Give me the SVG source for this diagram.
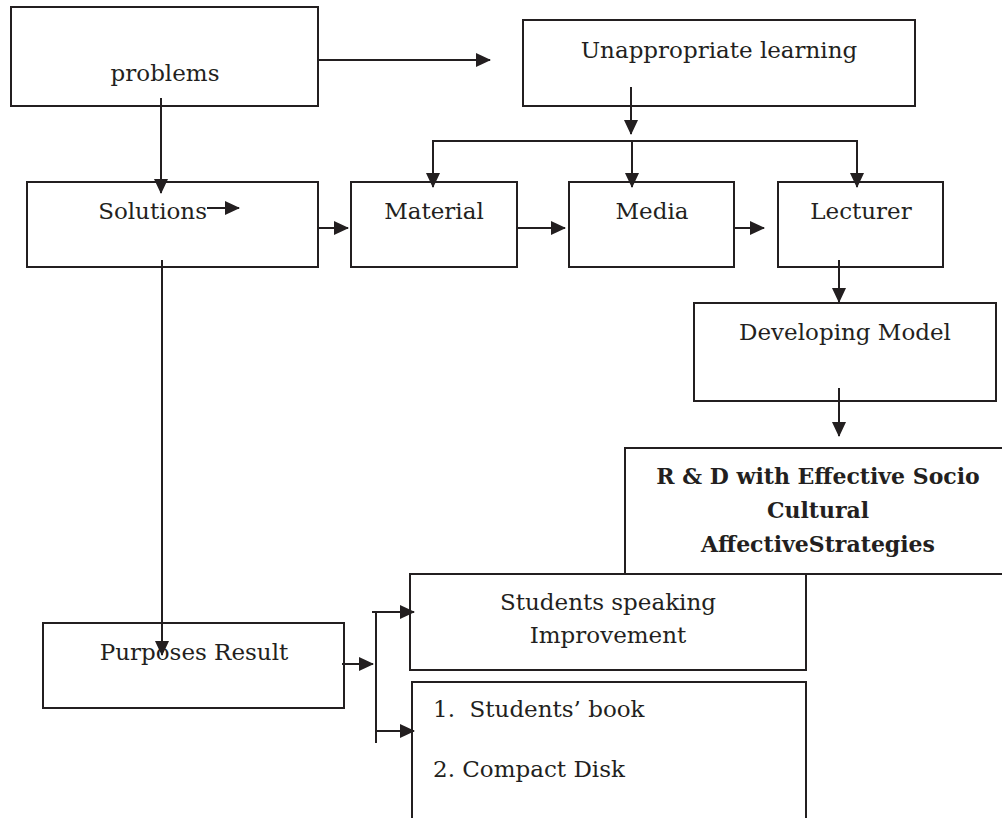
<svg xmlns="http://www.w3.org/2000/svg" width="1002" height="818" viewBox="0 0 1002 818">
<style>
.box{fill:#fff;stroke:#231f20;stroke-width:2}
.ln{fill:none;stroke:#231f20;stroke-width:2}
text{font-family:"DejaVu Serif","Liberation Serif",serif;font-size:23px;fill:#231f20}
.c{text-anchor:middle}
.e{text-anchor:end}
.b{font-weight:bold;font-size:22px}
</style>
<defs>
<marker id="ah" markerWidth="15" markerHeight="14" refX="14" refY="7" orient="auto" markerUnits="userSpaceOnUse">
<path d="M0,0 L15,7 L0,14 Z" fill="#231f20"/>
</marker>
</defs>
<g id="problems"><rect class="box" x="11" y="7" width="307" height="99"/><text class="c" x="165" y="81">problems</text></g>
<g id="unappropriate"><rect class="box" x="523" y="20" width="392" height="86"/><text class="c" x="719" y="58">Unappropriate learning</text></g>
<g id="solutions"><rect class="box" x="27" y="182" width="291" height="85"/><text class="e" x="207" y="219">Solutions</text><line class="ln" x1="207" y1="208" x2="239" y2="208" marker-end="url(#ah)"/></g>
<g id="material"><rect class="box" x="351" y="182" width="166" height="85"/><text class="c" x="434" y="219">Material</text></g>
<g id="media"><rect class="box" x="569" y="182" width="165" height="85"/><text class="c" x="652" y="219">Media</text></g>
<g id="lecturer"><rect class="box" x="778" y="182" width="165" height="85"/><text class="c" x="861" y="219">Lecturer</text></g>
<g id="developing"><rect class="box" x="694" y="303" width="302" height="98"/><text class="c" x="845" y="340">Developing Model</text></g>
<g id="rd"><rect class="box" x="625" y="448" width="390" height="126"/><text class="c b" x="818" y="484">R &amp; D with Effective Socio</text><text class="c b" x="818" y="518">Cultural</text><text class="c b" x="818" y="552">AffectiveStrategies</text></g>
<g id="purposes"><rect class="box" x="43" y="623" width="301" height="85"/><text class="c" x="194" y="660">Purposes Result</text></g>
<g id="speaking"><rect class="box" x="410" y="574" width="396" height="96"/><text class="c" x="608" y="610">Students speaking</text><text class="c" x="608" y="643">Improvement</text></g>
<g id="products"><rect class="box" x="412" y="682" width="394" height="150"/><text x="433" y="717" xml:space="preserve">1.  Students’ book</text><text x="433" y="777">2. Compact Disk</text></g>
<g id="connectors">
<line class="ln" x1="318" y1="60" x2="490" y2="60" marker-end="url(#ah)"/>
<line class="ln" x1="161" y1="98" x2="161" y2="193" marker-end="url(#ah)"/>
<line class="ln" x1="631" y1="87" x2="631" y2="134" marker-end="url(#ah)"/>
<polyline class="ln" points="433,187 433,141 857,141 857,187" marker-end="url(#ah)"/>
<line class="ln" x1="433" y1="170" x2="433" y2="187" marker-end="url(#ah)"/>
<line class="ln" x1="632" y1="141" x2="632" y2="187" marker-end="url(#ah)"/>
<line class="ln" x1="318" y1="228" x2="348" y2="228" marker-end="url(#ah)"/>
<line class="ln" x1="517" y1="228" x2="565" y2="228" marker-end="url(#ah)"/>
<line class="ln" x1="734" y1="228" x2="764" y2="228" marker-end="url(#ah)"/>
<line class="ln" x1="839" y1="260" x2="839" y2="302" marker-end="url(#ah)"/>
<line class="ln" x1="839" y1="388" x2="839" y2="436" marker-end="url(#ah)"/>
<line class="ln" x1="162" y1="260" x2="162" y2="655" marker-end="url(#ah)"/>
<line class="ln" x1="342" y1="664" x2="373" y2="664" marker-end="url(#ah)"/>
<line class="ln" x1="376" y1="612" x2="376" y2="743"/>
<line class="ln" x1="372" y1="612" x2="414" y2="612" marker-end="url(#ah)"/>
<line class="ln" x1="376" y1="731" x2="414" y2="731" marker-end="url(#ah)"/>
</g>
</svg>
